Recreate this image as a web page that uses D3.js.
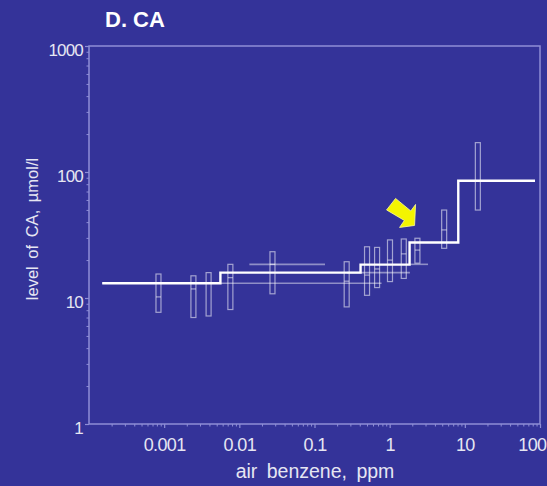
<!DOCTYPE html>
<html>
<head>
<meta charset="utf-8">
<script src="https://cdn.jsdelivr.net/npm/d3@7"></script>
<style>
  html, body { margin: 0; padding: 0; background: #343399; }
  svg { display: block; }
  text { font-family: "Liberation Sans", Arial, sans-serif; }
</style>
</head>
<body>
<svg id="chart" width="547" height="486"></svg>
<script>
// Exposure groups: air benzene (ppm) and CA level box (low / median / high, µmol/l)
const groupPpm    = [0.00084, 0.00245, 0.0039, 0.0076, 0.0276, 0.268, 0.50, 0.68, 1.01, 1.54, 2.34, 5.31, 14.9];
const boxLow      = [7.7, 7.0, 7.2, 8.1, 10.8, 8.5, 10.5, 12.1, 13.5, 14.3, 18.9, 24.8, 49.9];
const boxMedian   = [10.2, 11.8, 13.1, 14.5, 18.5, 13.6, 15.2, 17.0, 20.0, 22.4, 24.0, 34.7, 85.0];
const boxHigh     = [15.5, 15.0, 15.9, 18.5, 23.3, 19.4, 25.5, 25.2, 28.9, 29.4, 29.8, 49.9, 171];

// Exposure ranges drawn as thin horizontal bars (ppm from, ppm to, level)
const rangeFrom   = [0.00015, 0.27, 0.0136, 1.8];
const rangeTo     = [0.78, 1.86, 0.138, 3.24];
const rangeLevel  = [13.1, 15.9, 18.5, 18.5];

// Fitted step function: breakpoints (ppm) and level on each step
const stepPpm     = [0.00015, 0.0056, 0.41, 1.84, 8.18, 85.8];
const stepLevel   = [13.1, 15.9, 18.4, 27.6, 85.3];

// Axis ticks
const xTickVals   = [0.001, 0.01, 0.1, 1, 10, 100];
const xTickLabels = ["0.001", "0.01", "0.1", "1", "10", "100"];
const yTickVals   = [1, 10, 100, 1000];
const yTickLabels = ["1", "10", "100", "1000"];

const svg = d3.select("#chart");
const W = 547, H = 486;
const m = { left: 89, right: 540, top: 46, bottom: 424 };

svg.append("rect").attr("width", W).attr("height", H).attr("fill", "#343399");

const x = d3.scaleLog().domain([0.0001, 100]).range([m.left, m.right]);
const y = d3.scaleLog().domain([1, 1000]).range([m.bottom, m.top]);

const frameColor = "#8e8ed6";
const labelColor = "#e6e6f2";

// minor ticks on x axis
const xMinor = [];
for (let e = -4; e < 2; e++) for (let k = 2; k <= 9; k++) xMinor.push(k * Math.pow(10, e));
svg.append("g")
  .attr("transform", `translate(0,${m.bottom})`)
  .call(d3.axisBottom(x).tickValues(xMinor).tickSize(2.5).tickFormat(""))
  .call(g => g.select(".domain").remove())
  .call(g => g.selectAll("line").attr("stroke", frameColor).attr("stroke-width", 1));

// major ticks + labels on x axis
svg.append("g")
  .attr("transform", `translate(0,${m.bottom})`)
  .call(d3.axisBottom(x).tickValues(xTickVals).tickSize(4).tickPadding(10)
        .tickFormat((d, i) => xTickLabels[i]))
  .call(g => g.select(".domain").remove())
  .call(g => g.selectAll("line").attr("stroke", frameColor).attr("stroke-width", 1.2))
  .call(g => g.selectAll("text").attr("fill", labelColor).attr("font-size", 18)
        .attr("letter-spacing", "-0.6px"))
  // the last label sits against the right edge of the page
  .call(g => g.selectAll("text").filter(d => d === 100)
        .attr("text-anchor", "end").attr("x", W - 1 - x(100)));

// y axis
const yMinor = [];
for (let e = 0; e < 3; e++) for (let k = 2; k <= 9; k++) yMinor.push(k * Math.pow(10, e));
svg.append("g")
  .attr("transform", `translate(${m.left},0)`)
  .call(d3.axisLeft(y).tickValues(yMinor).tickSize(2.5).tickFormat(""))
  .call(g => g.select(".domain").remove())
  .call(g => g.selectAll("line").attr("stroke", frameColor).attr("stroke-width", 1));

svg.append("g")
  .attr("transform", `translate(${m.left},0)`)
  .call(d3.axisLeft(y).tickValues(yTickVals).tickSize(4).tickPadding(2)
        .tickFormat((d, i) => yTickLabels[i]))
  .call(g => g.select(".domain").remove())
  .call(g => g.selectAll("line").attr("stroke", frameColor).attr("stroke-width", 1.2))
  .call(g => g.selectAll("text").attr("fill", labelColor).attr("font-size", 17)
        .attr("letter-spacing", "-0.8px").attr("dy", "0.55em"));

// plot frame
svg.append("rect")
  .attr("x", m.left).attr("y", m.top)
  .attr("width", m.right - m.left).attr("height", m.bottom - m.top)
  .attr("fill", "none").attr("stroke", frameColor).attr("stroke-width", 1.5);

const plot = svg.append("g");

// exposure range bars
plot.selectAll("line.range")
  .data(rangeFrom.map((f, i) => ({ f, t: rangeTo[i], v: rangeLevel[i] })))
  .join("line")
  .attr("class", "range")
  .attr("x1", d => x(d.f)).attr("x2", d => x(d.t))
  .attr("y1", d => y(d.v)).attr("y2", d => y(d.v))
  .attr("stroke", "rgba(255,255,255,0.45)").attr("stroke-width", 1.6);

// boxes
const boxes = groupPpm.map((p, i) => ({ p, lo: boxLow[i], md: boxMedian[i], hi: boxHigh[i] }));
const bw = 5;
plot.selectAll("rect.box")
  .data(boxes)
  .join("rect")
  .attr("class", "box")
  .attr("x", d => x(d.p) - bw / 2).attr("width", bw)
  .attr("y", d => y(d.hi)).attr("height", d => y(d.lo) - y(d.hi))
  .attr("fill", "none").attr("stroke", "rgba(255,255,255,0.55)").attr("stroke-width", 1.2);
plot.selectAll("line.med")
  .data(boxes)
  .join("line")
  .attr("class", "med")
  .attr("x1", d => x(d.p) - bw / 2).attr("x2", d => x(d.p) + bw / 2)
  .attr("y1", d => y(d.md)).attr("y2", d => y(d.md))
  .attr("stroke", "rgba(255,255,255,0.55)").attr("stroke-width", 1.2);

// fitted step function
const stepPts = [];
stepLevel.forEach((v, i) => { stepPts.push([stepPpm[i], v]); stepPts.push([stepPpm[i + 1], v]); });
plot.append("path")
  .datum(stepPts)
  .attr("d", d3.line().x(d => x(d[0])).y(d => y(d[1])))
  .attr("fill", "none").attr("stroke", "#ffffff").attr("stroke-width", 2.4)
  .attr("stroke-linejoin", "miter");

// yellow pointer at the step near 2 ppm
const tipX = x(stepPpm[3]) + 5, tipY = y(stepLevel[3]) - 17;
const arrowShape = [[0, 0], [1, -21], [-3.8, -14.5], [-19, -27], [-28, -15.5], [-10.2, -5], [-15, 2]];
svg.append("polygon")
  .attr("points", arrowShape.map(p => [tipX + p[0], tipY + p[1]].join(",")).join(" "))
  .attr("fill", "#f4f400").attr("stroke", "#fbfb9a").attr("stroke-width", 0.8);

// titles
svg.append("text").attr("x", 105).attr("y", 27)
  .attr("fill", "#ffffff").attr("font-size", 22).attr("font-weight", "bold")
  .text("D. CA");

svg.append("text")
  .attr("x", 315).attr("y", 478)
  .attr("text-anchor", "middle").attr("fill", labelColor).attr("font-size", 19.5)
  .attr("word-spacing", "4px")
  .text("air benzene, ppm");

svg.append("text")
  .attr("transform", `translate(38,229) rotate(-90)`)
  .attr("text-anchor", "middle").attr("fill", labelColor).attr("font-size", 16.5)
  .attr("word-spacing", "3px")
  .text("level of CA, µmol/l");
</script>
</body>
</html>
